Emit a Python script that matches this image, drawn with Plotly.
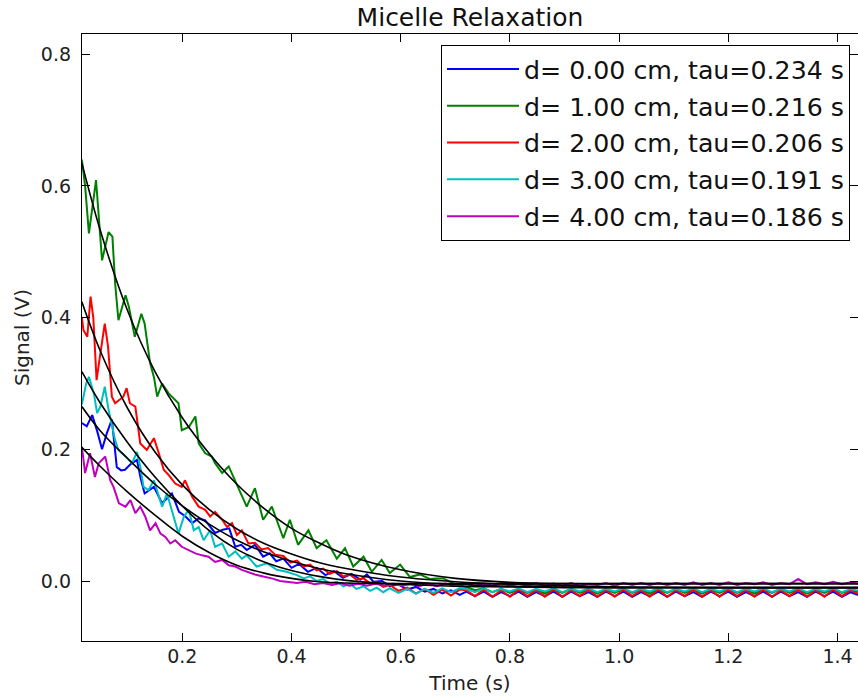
import plotly.graph_objects as go

# ---------------- data ----------------
SERIES_NAMES = ["d= 0.00 cm, tau=0.234 s", "d= 1.00 cm, tau=0.216 s", "d= 2.00 cm, tau=0.206 s",
                "d= 3.00 cm, tau=0.191 s", "d= 4.00 cm, tau=0.186 s"]
SERIES_COLORS = ["#0000ff", "#008000", "#ff0000", "#00bfbf", "#bf00bf"]

# early (decaying) part of each measured trace: times and signal values
BLUE_T = [0.016, 0.025, 0.035, 0.044, 0.053, 0.062, 0.071, 0.080, 0.088, 0.095, 0.106, 0.117, 0.124, 0.131,
          0.148, 0.163, 0.181, 0.194, 0.206, 0.218, 0.230, 0.242, 0.260, 0.274, 0.286, 0.297, 0.308, 0.318,
          0.333, 0.348, 0.360, 0.372, 0.385, 0.400, 0.414, 0.430, 0.446, 0.462, 0.478, 0.494, 0.510, 0.526,
          0.538, 0.550, 0.566, 0.580, 0.596, 0.612, 0.628, 0.644, 0.660, 0.676, 0.692, 0.708]
BLUE_V = [0.240, 0.235, 0.252, 0.228, 0.200, 0.225, 0.245, 0.173, 0.168, 0.169, 0.178, 0.184, 0.155, 0.133,
          0.143, 0.118, 0.133, 0.105, 0.098, 0.088, 0.095, 0.092, 0.073, 0.078, 0.080, 0.052, 0.055, 0.047,
          0.055, 0.037, 0.042, 0.030, 0.034, 0.020, 0.026, 0.014, 0.020, 0.009, 0.015, 0.005, 0.011, 0.002,
          0.010, -0.001, 0.000, -0.008, -0.005, -0.013, -0.009, -0.016, -0.012, -0.019, -0.014, -0.021]

GREEN_T = [0.016, 0.022, 0.029, 0.042, 0.053, 0.065, 0.072, 0.077, 0.083, 0.096, 0.102, 0.113, 0.125, 0.131,
           0.141, 0.148, 0.154, 0.163, 0.175, 0.193, 0.199, 0.212, 0.224, 0.230, 0.242, 0.254, 0.260, 0.273,
           0.285, 0.294, 0.303, 0.318, 0.333, 0.348, 0.364, 0.385, 0.397, 0.412, 0.431, 0.446, 0.464, 0.483,
           0.498, 0.513, 0.532, 0.547, 0.565, 0.580, 0.599, 0.617, 0.635, 0.654, 0.666, 0.678, 0.690, 0.702]
GREEN_V = [0.640, 0.600, 0.528, 0.609, 0.487, 0.530, 0.523, 0.452, 0.396, 0.434, 0.417, 0.371, 0.406, 0.391,
           0.331, 0.310, 0.280, 0.300, 0.285, 0.270, 0.229, 0.234, 0.250, 0.209, 0.194, 0.189, 0.179, 0.164,
           0.174, 0.158, 0.140, 0.113, 0.141, 0.093, 0.113, 0.065, 0.093, 0.055, 0.077, 0.050, 0.062, 0.034,
           0.050, 0.022, 0.037, 0.014, 0.032, 0.012, 0.025, 0.006, 0.010, 0.003, 0.004, 0.004, -0.001, -0.006]

RED_T = [0.016, 0.019, 0.026, 0.032, 0.037, 0.043, 0.049, 0.058, 0.064, 0.071, 0.077, 0.085, 0.092, 0.098,
         0.104, 0.114, 0.123, 0.135, 0.148, 0.157, 0.166, 0.176, 0.187, 0.199, 0.205, 0.218, 0.230, 0.242,
         0.251, 0.260, 0.273, 0.282, 0.291, 0.300, 0.309, 0.321, 0.333, 0.345, 0.357, 0.370, 0.385, 0.398,
         0.410, 0.422, 0.434, 0.446, 0.458, 0.470, 0.483, 0.495, 0.507, 0.519, 0.532, 0.544, 0.556, 0.568,
         0.580, 0.596, 0.612, 0.628, 0.644, 0.660, 0.676, 0.692, 0.708]
RED_V = [0.400, 0.381, 0.371, 0.432, 0.400, 0.305, 0.340, 0.391, 0.356, 0.280, 0.270, 0.275, 0.280, 0.293,
         0.270, 0.265, 0.209, 0.199, 0.217, 0.194, 0.169, 0.160, 0.148, 0.143, 0.153, 0.128, 0.113, 0.108,
         0.098, 0.105, 0.093, 0.082, 0.088, 0.070, 0.077, 0.057, 0.058, 0.048, 0.050, 0.040, 0.038, 0.028,
         0.031, 0.022, 0.025, 0.016, 0.019, 0.011, 0.015, 0.007, 0.010, 0.002, 0.004, -0.004, -0.002, -0.009,
         -0.006, -0.015, -0.010, -0.019, -0.012, -0.021, -0.013, -0.022, -0.013]

CYAN_T = [0.016, 0.024, 0.029, 0.038, 0.044, 0.050, 0.058, 0.065, 0.077, 0.083, 0.096, 0.108, 0.117, 0.123,
          0.129, 0.138, 0.148, 0.154, 0.163, 0.172, 0.181, 0.193, 0.203, 0.212, 0.221, 0.230, 0.239, 0.251,
          0.260, 0.273, 0.285, 0.297, 0.309, 0.318, 0.336, 0.355, 0.373, 0.391, 0.410, 0.422, 0.434, 0.446,
          0.458, 0.470, 0.483, 0.495, 0.507, 0.519, 0.532, 0.544, 0.556, 0.568, 0.580, 0.596, 0.612, 0.628,
          0.644, 0.660, 0.676, 0.692, 0.708]
CYAN_V = [0.268, 0.300, 0.310, 0.285, 0.255, 0.265, 0.295, 0.260, 0.214, 0.199, 0.189, 0.179, 0.196, 0.174,
          0.143, 0.138, 0.153, 0.138, 0.113, 0.133, 0.108, 0.072, 0.098, 0.108, 0.077, 0.082, 0.062, 0.077,
          0.052, 0.057, 0.037, 0.045, 0.034, 0.039, 0.022, 0.027, 0.017, 0.014, 0.009, 0.004, 0.007, 0.000,
          0.003, -0.004, -0.001, -0.008, -0.004, -0.012, -0.008, -0.015, -0.010, -0.017, -0.011, -0.018,
          -0.012, -0.019, -0.012, -0.018, -0.011, -0.017, -0.011]

MAGENTA_T = [0.016, 0.022, 0.031, 0.040, 0.047, 0.059, 0.068, 0.074, 0.084, 0.096, 0.105, 0.114, 0.123, 0.132,
             0.141, 0.151, 0.160, 0.169, 0.178, 0.187, 0.199, 0.212, 0.224, 0.236, 0.248, 0.260, 0.273, 0.285,
             0.297, 0.309, 0.318, 0.333, 0.348, 0.364, 0.379, 0.395, 0.410, 0.426, 0.442, 0.458, 0.474, 0.490,
             0.506, 0.522, 0.538, 0.554, 0.570, 0.586, 0.602, 0.618, 0.634, 0.650, 0.666, 0.682, 0.698]
MAGENTA_V = [0.204, 0.164, 0.194, 0.158, 0.179, 0.189, 0.153, 0.143, 0.118, 0.113, 0.123, 0.103, 0.113, 0.098,
             0.077, 0.088, 0.072, 0.067, 0.057, 0.062, 0.052, 0.047, 0.042, 0.039, 0.037, 0.029, 0.032, 0.024,
             0.022, 0.017, 0.014, 0.010, 0.007, 0.004, 0.000, -0.001, -0.003, -0.001, -0.005, -0.003, -0.006,
             -0.003, -0.007, -0.004, -0.007, -0.004, -0.007, -0.004, -0.007, -0.004, -0.008, -0.004, -0.008,
             -0.004, -0.008]

# flat tail of each trace (ripple), sampled from TAIL_T0 every TAIL_DT seconds
TAIL_T0 = 0.72
TAIL_DT = 0.016
BLUE_TAIL = [-0.016, -0.023, -0.016, -0.024, -0.017, -0.023, -0.016, -0.024, -0.017, -0.023, -0.016, -0.024,
             -0.016, -0.023, -0.017, -0.024, -0.016, -0.023, -0.016, -0.024, -0.017, -0.023, -0.016, -0.024,
             -0.016, -0.023, -0.017, -0.024, -0.016, -0.023, -0.016, -0.024, -0.017, -0.023, -0.016, -0.024,
             -0.016, -0.023, -0.017, -0.024, -0.016, -0.023, -0.016, -0.024, -0.017, -0.022]
GREEN_TAIL = [-0.009, -0.014, -0.011, -0.017, -0.012, -0.018, -0.013, -0.018, -0.013, -0.019, -0.013, -0.018,
              -0.012, -0.018, -0.013, -0.019, -0.013, -0.018, -0.012, -0.018, -0.013, -0.019, -0.013, -0.018,
              -0.012, -0.018, -0.013, -0.019, -0.013, -0.018, -0.012, -0.018, -0.013, -0.019, -0.013, -0.018,
              -0.012, -0.018, -0.013, -0.019, -0.013, -0.018, -0.012, -0.018, -0.013, -0.017]
RED_TAIL = [-0.014, -0.023, -0.013, -0.024, -0.014, -0.024, -0.013, -0.023, -0.014, -0.024, -0.013, -0.024,
            -0.014, -0.023, -0.013, -0.024, -0.014, -0.024, -0.013, -0.023, -0.014, -0.024, -0.013, -0.024,
            -0.014, -0.023, -0.013, -0.024, -0.014, -0.024, -0.013, -0.023, -0.014, -0.024, -0.013, -0.024,
            -0.014, -0.023, -0.013, -0.024, -0.014, -0.024, -0.013, -0.023, -0.014, -0.020]
CYAN_TAIL = [-0.012, -0.017, -0.011, -0.017, -0.012, -0.016, -0.011, -0.017, -0.012, -0.016, -0.011, -0.017,
             -0.012, -0.016, -0.011, -0.017, -0.012, -0.016, -0.011, -0.017, -0.012, -0.016, -0.011, -0.017,
             -0.012, -0.016, -0.011, -0.017, -0.012, -0.016, -0.011, -0.017, -0.012, -0.016, -0.011, -0.017,
             -0.012, -0.016, -0.011, -0.017, -0.012, -0.016, -0.011, -0.017, -0.012, -0.015]
MAGENTA_TAIL = [-0.004, -0.008, -0.004, -0.007, -0.003, -0.007, -0.004, -0.007, -0.003, -0.007, -0.004, -0.007,
                -0.003, -0.007, -0.004, -0.006, -0.003, -0.007, -0.003, -0.006, -0.003, -0.006, -0.003, -0.006,
                -0.003, -0.006, -0.002, -0.006, -0.003, -0.006, -0.002, -0.006, -0.003, -0.005, -0.002, -0.006,
                -0.003, -0.005, 0.003, -0.005, -0.002, -0.005, -0.001, -0.005, -0.002, -0.004]

# fitted exponential curves (black), read at these times
FIT_T = [0.016, 0.05, 0.10, 0.15, 0.20, 0.25, 0.30, 0.35, 0.40, 0.45, 0.50, 0.60, 0.70, 0.80, 0.90, 1.00, 1.20, 1.44]
FIT_BLUE = [0.265, 0.228, 0.186, 0.147, 0.114, 0.086, 0.062, 0.044, 0.030, 0.019, 0.011, 0.000, -0.005, -0.008,
            -0.009, -0.010, -0.010, -0.010]
FIT_GREEN = [0.635, 0.532, 0.410, 0.318, 0.248, 0.193, 0.147, 0.110, 0.080, 0.058, 0.040, 0.017, 0.004, -0.002,
             -0.004, -0.004, -0.004, -0.004]
FIT_RED = [0.424, 0.349, 0.262, 0.196, 0.146, 0.108, 0.079, 0.057, 0.041, 0.028, 0.019, 0.006, -0.001, -0.005,
           -0.007, -0.009, -0.010, -0.010]
FIT_CYAN = [0.318, 0.270, 0.210, 0.158, 0.114, 0.076, 0.048, 0.029, 0.016, 0.007, 0.001, -0.005, -0.008, -0.009,
            -0.010, -0.010, -0.010, -0.010]
FIT_MAGENTA = [0.203, 0.174, 0.135, 0.100, 0.068, 0.043, 0.024, 0.012, 0.004, -0.001, -0.003, -0.004, -0.004,
               -0.004, -0.004, -0.004, -0.004, -0.004]

X_TICKS = [0.2, 0.4, 0.6, 0.8, 1.0, 1.2, 1.4]
Y_TICKS = [0.0, 0.2, 0.4, 0.6, 0.8]
X_RANGE = [0.0163, 1.4375]
Y_RANGE = [-0.0911, 0.8308]

# ---------------- figure ----------------
def tail_times(tail):
    return [round(TAIL_T0 + i * TAIL_DT, 4) for i in range(len(tail))]

traces = [
    (BLUE_T, BLUE_V, BLUE_TAIL),
    (GREEN_T, GREEN_V, GREEN_TAIL),
    (RED_T, RED_V, RED_TAIL),
    (CYAN_T, CYAN_V, CYAN_TAIL),
    (MAGENTA_T, MAGENTA_V, MAGENTA_TAIL),
]
fits = [FIT_BLUE, FIT_GREEN, FIT_RED, FIT_CYAN, FIT_MAGENTA]

FONT = "DejaVu Sans"
W, H = 858, 700
fig = go.Figure()
for i, (t, v, tail) in enumerate(traces):
    fig.add_trace(go.Scatter(
        x=t + tail_times(tail), y=v + tail, mode="lines", name=SERIES_NAMES[i],
        legendgroup=f"g{i}",
        line=dict(color=SERIES_COLORS[i], width=2),
    ))
for i, f in enumerate(fits):
    fig.add_trace(go.Scatter(
        x=FIT_T, y=f, mode="lines", showlegend=False,
        line=dict(color="black", width=1.6, shape="spline", smoothing=1.0),
        hoverinfo="skip",
    ))

axis_common = dict(
    showline=True, linecolor="black", linewidth=1.3, mirror="ticks",
    ticks="inside", ticklen=8, tickwidth=1, tickcolor="black",
    showgrid=False, zeroline=False, automargin=False,
    tickfont=dict(family=FONT, size=19, color="#222222"),
    tickformat=".1f",
)
fig.update_layout(
    width=W, height=H,
    margin=dict(l=82, r=0, t=34, b=59, autoexpand=False),
    paper_bgcolor="white", plot_bgcolor="white",
    font=dict(family=FONT, color="#222222"),
    title=dict(text="Micelle Relaxation", x=0.5, xref="paper", xanchor="center",
               y=1 - 17 / H, yref="container", yanchor="middle",
               font=dict(family=FONT, size=25, color="#111111")),
    xaxis=dict(range=X_RANGE, tickvals=X_TICKS, ticklabelstandoff=-2,
               title=dict(text="Time (s)", font=dict(family=FONT, size=20, color="#222222"), standoff=10),
               **axis_common),
    yaxis=dict(range=Y_RANGE, tickvals=Y_TICKS, ticklabelstandoff=6,
               title=dict(text="Signal (V)", font=dict(family=FONT, size=20, color="#222222"), standoff=5),
               **axis_common),
    legend=dict(x=0.9897, xanchor="right", y=0.9819, yanchor="top",
                bgcolor="white", bordercolor="black", borderwidth=1,
                font=dict(family=FONT, size=25.25, color="#111111"),
                tracegroupgap=1, itemwidth=72),
    showlegend=True,
)

# place the figure flush with the window corner (the page body has an 8 px margin by default)
fig.write_html("out.html",
               config={"displayModeBar": False},
               post_script="document.body.style.margin='0';document.body.style.overflow='hidden';")
